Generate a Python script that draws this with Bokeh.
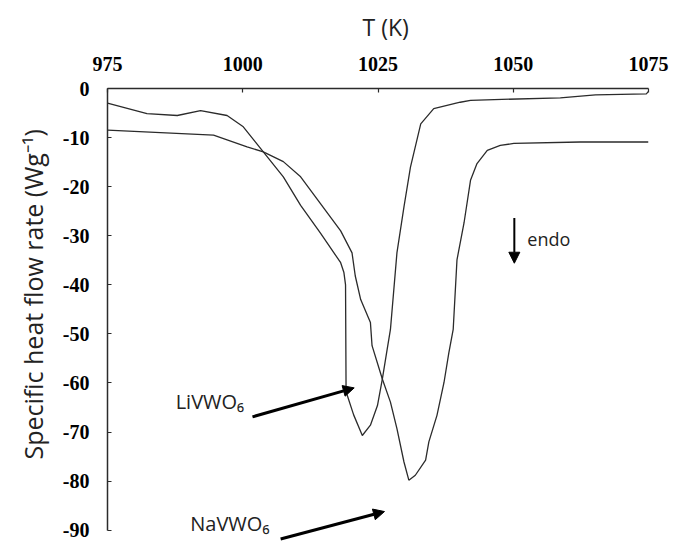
from bokeh.plotting import figure
from bokeh.models import Range1d, FixedTicker, Title, Arrow, NormalHead, Label
from bokeh.embed import file_html
from bokeh.resources import INLINE

# ---- data ----
li_T = [975.0, 982.3, 987.9, 992.2, 997.1, 1000.1, 1003.8, 1007.5, 1010.7, 1014.4,
        1018.1, 1018.7, 1019.0, 1019.1, 1020.5, 1022.1, 1023.6, 1024.9, 1025.8, 1026.7,
        1027.3, 1028.5, 1029.8, 1031.0, 1032.9, 1035.3, 1040.2, 1042.1, 1058.7, 1065.2,
        1074.6, 1075.0]
li_Q = [-3.0, -5.1, -5.5, -4.5, -5.5, -7.8, -12.9, -18.0, -23.8, -29.5,
        -35.5, -37.5, -40.0, -61.8, -66.5, -70.7, -68.6, -64.6, -59.2, -53.1,
        -49.1, -33.5, -24.1, -16.0, -7.2, -4.1, -2.8, -2.4, -1.9, -1.3,
        -1.1, -0.6]

na_T = [975.0, 994.6, 1000.8, 1003.8, 1007.5, 1010.7, 1014.4, 1018.1, 1020.2, 1020.8,
        1021.8, 1023.6, 1023.9, 1025.8, 1027.3, 1028.5, 1029.8, 1030.7, 1031.9, 1033.8,
        1034.4, 1035.9, 1037.2, 1038.1, 1038.9, 1039.6, 1040.9, 1042.1, 1043.3, 1045.2,
        1047.6, 1050.1, 1062.4, 1075.0]
na_Q = [-8.5, -9.5, -11.9, -12.9, -14.9, -18.0, -23.5, -29.0, -33.5, -38.2,
        -43.0, -47.7, -52.4, -59.2, -63.9, -69.3, -76.1, -79.8, -78.8, -75.7,
        -72.0, -66.6, -59.9, -53.8, -49.1, -34.9, -27.4, -18.7, -15.3, -12.6,
        -11.6, -11.2, -10.9, -10.9]

x_ticks = [975, 1000, 1025, 1050, 1075]
x_tick_labels = ["975", "1000", "1025", "1050", "1075"]
y_ticks = [0, -10, -20, -30, -40, -50, -60, -70, -80, -90]
y_tick_labels = ["0", "-10", "-20", "-30", "-40", "-50", "-60", "-70", "-80", "-90"]

x_title = "T (K)"
y_title = "Specific heat flow rate (Wg\u207b\u00b9)"
li_name = "LiVWO\u2086"
na_name = "NaVWO\u2086"
endo_name = "endo"

# annotation anchors (data units)
li_arrow = (1001.8, -66.9, 1020.6, -61.0)
na_arrow = (1007.0, -91.8, 1026.2, -86.2)
endo_arrow = (1050.2, -26.4, 1050.2, -35.6)
li_label = (987.6, -63.7)
na_label = (990.3, -88.6)
endo_label = (1052.6, -30.6)

LINE = "#2b2b2b"

p = figure(width=674, height=541, output_backend="svg", toolbar_location=None,
           x_axis_location="above",
           x_range=Range1d(975, 1075), y_range=Range1d(-92.3, 0),
           min_border_left=107, min_border_right=26, min_border_top=88,
           min_border_bottom=0)
p.outline_line_color = None
p.grid.visible = False
p.background_fill_color = "white"
p.border_fill_color = "white"

for ax, ticks, labels in ((p.xaxis[0], x_ticks, x_tick_labels), (p.yaxis[0], y_ticks, y_tick_labels)):
    ax.ticker = FixedTicker(ticks=ticks)
    ax.major_label_overrides = {t: l for t, l in zip(ticks, labels)}
    ax.minor_tick_line_color = None
    ax.major_tick_in = 4
    ax.major_tick_out = 0
    ax.axis_line_color = LINE
    ax.axis_line_width = 1.5
    ax.major_tick_line_color = LINE
    ax.major_tick_line_width = 1.2
    ax.major_label_text_font = "Liberation Serif"
    ax.major_label_text_font_style = "bold"
    ax.major_label_text_font_size = "20px"
    ax.major_label_text_color = "black"

p.yaxis.bounds = (-90, 0)
p.xaxis.major_label_standoff = 18
p.yaxis.major_label_standoff = 18

p.add_layout(Title(text=x_title, align="left", offset=255, standoff=17,
                   vertical_align="top",
                   text_font="Open Sans", text_font_style="normal",
                   text_font_size="23px", text_color="#222222"), "above")
p.add_layout(Title(text=y_title, align="left", offset=82, standoff=20,
                   text_font="Open Sans", text_font_style="normal",
                   text_font_size="25px", text_color="#222222"), "left")

p.line(li_T, li_Q, line_color=LINE, line_width=1.3)
p.line(na_T, na_Q, line_color=LINE, line_width=1.3)

for (x0, y0, x1, y1), lw, sz in ((li_arrow, 3, 11), (na_arrow, 3, 11), (endo_arrow, 2, 11)):
    p.add_layout(Arrow(x_start=x0, y_start=y0, x_end=x1, y_end=y1,
                       line_color="black", line_width=lw,
                       end=NormalHead(size=sz, fill_color="black", line_color="black")))

for (x, y), txt, fs in ((li_label, li_name, "20px"), (na_label, na_name, "20px"),
                        (endo_label, endo_name, "18px")):
    p.add_layout(Label(x=x, y=y, text=txt, text_font="Open Sans", text_font_size=fs,
                       text_baseline="middle", text_align="left", text_color="#222222"))

open("out.html", "w").write(file_html(p, INLINE))
